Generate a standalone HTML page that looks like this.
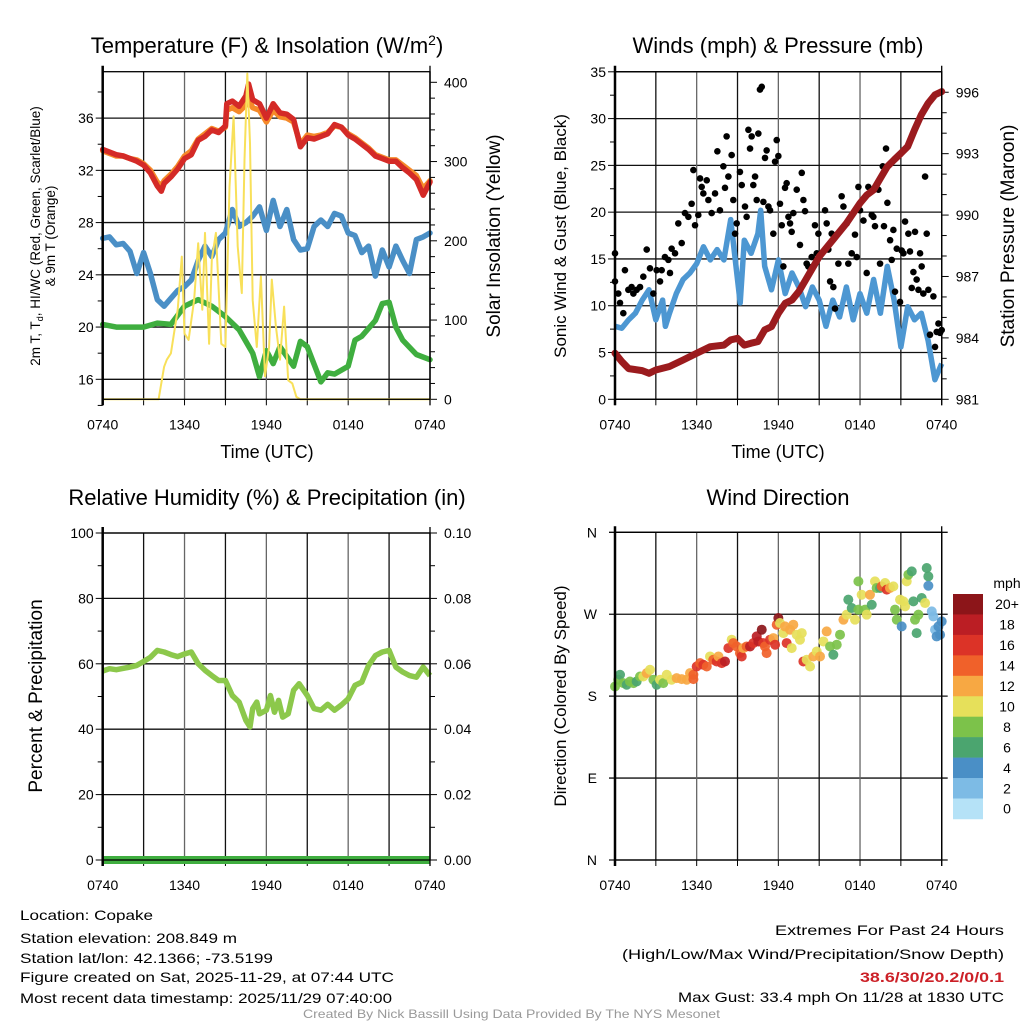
<!DOCTYPE html>
<html><head><meta charset="utf-8"><style>
html,body{margin:0;padding:0;background:#fff}
svg{display:block;font-family:"Liberation Sans",Arial,sans-serif}
</style></head><body>
<svg id="chart" width="1024" height="1024" viewBox="0 0 1024 1024" xmlns="http://www.w3.org/2000/svg">
<rect width="1024" height="1024" fill="#fff"/>
<g id="p1"></g>
<g id="p2"></g>
<g id="p3"></g>
<g id="p4"></g>
<g id="txt" font-size="14" fill="#000">
<text x="20" y="920" textLength="133" lengthAdjust="spacingAndGlyphs">Location: Copake</text>
<text x="20" y="943" textLength="217" lengthAdjust="spacingAndGlyphs">Station elevation: 208.849 m</text>
<text x="20" y="963" textLength="253" lengthAdjust="spacingAndGlyphs">Station lat/lon: 42.1366; -73.5199</text>
<text x="20" y="982" textLength="374" lengthAdjust="spacingAndGlyphs">Figure created on Sat, 2025-11-29, at 07:44 UTC</text>
<text x="20" y="1003" textLength="372" lengthAdjust="spacingAndGlyphs">Most recent data timestamp: 2025/11/29 07:40:00</text>
<text x="775" y="935" textLength="229" lengthAdjust="spacingAndGlyphs">Extremes For Past 24 Hours</text>
<text x="622" y="959" textLength="382" lengthAdjust="spacingAndGlyphs">(High/Low/Max Wind/Precipitation/Snow Depth)</text>
<text x="860" y="982" textLength="144" lengthAdjust="spacingAndGlyphs" fill="#cc2027" font-weight="bold">38.6/30/20.2/0/0.1</text>
<text x="678" y="1002" textLength="326" lengthAdjust="spacingAndGlyphs">Max Gust: 33.4 mph On 11/28 at 1830 UTC</text>
<text x="303" y="1018" font-size="12" fill="#999" textLength="417" lengthAdjust="spacingAndGlyphs">Created By Nick Bassill Using Data Provided By The NYS Mesonet</text>
</g>
</svg>
<script>
// ---------- data ----------
const xTickLabels = ["0740","1340","1940","0140","0740"];
const tempTicks = [16,20,24,28,32,36];
const solarTicks = [0,100,200,300,400];
const windTicks = [0,5,10,15,20,25,30,35];
const presTicks = [981,984,987,990,993,996];
const rhTicks = [0,20,40,60,80,100];
const precipTicks = ["0.00","0.02","0.04","0.06","0.08","0.10"];
const dirLabels = ["N","E","S","W","N"];
const speedBins = ["0","2","4","6","8","10","12","14","16","18","20+"];
const speedColors = ["#b5e2f7","#7dbbe5","#4a8fc6","#4ba56f","#7cc24a","#e6e05a","#f7a843","#f0612a","#dc3327","#bb1e24","#8c1519"];

const tempHours = [0,0.5,1,1.5,2,2.5,3,3.5,4,4.3,4.5,5,5.5,6,6.5,7,7.5,8,8.5,9,9.1,9.5,10,10.5,10.7,11,11.5,12,12.5,13,13.5,14,14.5,15,15.5,16,16.5,17,17.5,18,18.5,19,19.5,20,20.5,21,21.5,22,22.5,23,23.5,24];
const tempRed = [33.6,33.4,33.2,33.1,32.9,32.7,32.4,31.8,30.8,30.4,31.0,31.5,32.1,32.9,33.2,34.3,34.6,35.1,34.9,35.4,37.1,37.3,36.9,37.7,38.6,37.4,37.1,36.0,37.1,36.4,36.3,35.9,33.8,34.5,34.4,34.6,34.8,35.5,35.3,34.7,34.4,34.0,33.6,33.1,32.9,32.7,32.7,32.2,31.8,31.3,30.1,31.1];
const tempOrange = [33.5,33.3,33.1,33.1,32.9,32.8,32.5,32.0,31.1,30.8,31.2,31.7,32.3,33.1,33.5,34.4,34.8,35.2,35.0,35.3,36.6,36.8,36.5,37.0,37.5,36.8,36.6,35.7,36.6,36.1,36.0,35.7,34.0,34.7,34.6,34.7,34.9,35.4,35.3,34.8,34.5,34.1,33.7,33.2,33.0,32.8,32.8,32.4,32.0,31.6,30.6,31.2];
const chillHours = [0,0.5,1,1.5,2,2.5,3,3.5,4,4.5,5,5.5,6,6.5,7,7.5,8,8.5,9,9.5,10,10.5,11,11.5,12,12.5,13,13.5,14,14.5,15,15.5,16,16.5,17,17.5,18,18.5,19,19.5,20,20.5,21,21.5,22,22.5,23,23.5,24];
const chillBlue = [26.8,26.9,26.3,26.4,25.8,24.1,25.7,24.1,22.1,21.6,22.2,22.8,23.1,23.6,25.1,26.2,25.4,26.7,27.2,29.0,27.7,28.0,28.5,29.2,27.4,29.7,27.7,29.0,26.7,25.9,26.0,27.7,28.2,27.7,28.7,28.5,27.2,27.0,25.7,26.2,23.9,25.9,24.6,26.2,25.1,24.1,26.7,26.9,27.2];
const dewHours = [0,1,2,3,4,5,6,7,8,9,10,11,11.5,12,12.5,13,14,14.5,15,16,16.5,17,18,18.5,19,20,20.5,21,21.5,22,23,24];
const dewGreen = [20.2,20.0,20.0,20.0,20.3,20.2,21.6,22.1,21.6,20.8,19.8,18.0,16.2,18.2,17.2,18.5,17.0,18.9,18.5,15.8,16.5,16.4,17.0,19.0,19.3,20.5,21.8,21.9,20.0,19.0,17.9,17.5];
const solarHours = [0,4.1,4.5,4.7,5,5.5,5.8,6,6.3,6.7,7,7.3,7.5,7.8,8,8.3,8.7,9,9.3,9.6,9.9,10.2,10.4,10.6,10.8,11,11.3,11.6,11.9,12.2,12.4,12.7,13,13.3,13.6,13.9,14.2,14.5,24];
const solarYellow = [0,0,41,50,58,113,180,83,75,125,197,113,210,70,176,210,70,66,268,357,193,134,302,411,323,125,66,155,29,66,151,92,50,117,24,20,3,0,0];

const windHours = [0,0.5,1,1.5,2,2.5,3,3.5,3.7,4,4.5,5,5.5,6,6.5,7,7.5,8,8.5,9,9.2,9.5,10,10.5,10.7,11,11.5,12,12.5,13,13.5,14,14.5,15,15.5,16,16.5,17,17.5,18,18.5,19,19.5,20,20.5,21,21.5,22,22.5,23,23.5,24];
const windSpeed = [7.8,7.6,8.5,9.2,10.6,11.7,8.5,10.6,7.8,9.2,11.3,12.8,13.5,14.5,16.3,14.9,16.0,14.9,19.2,12.8,10.3,17.0,15.6,17.7,20.2,14.2,11.7,14.9,11.3,13.5,12.0,9.9,12.0,10.6,7.8,10.6,8.8,12.0,8.5,11.3,9.2,12.8,9.2,14.2,10.6,5.6,9.9,8.5,9.2,6.3,2.1,3.8];
const gustHours = [0,0,0.24,0.37,0.61,0.73,0.98,1.22,1.35,1.59,1.84,2.08,2.33,2.57,2.82,3.06,3.31,3.43,3.67,3.92,4.04,4.16,4.41,4.65,4.9,5.14,5.39,5.63,5.76,5.88,6.12,6.25,6.37,6.49,6.74,6.86,7.1,7.35,7.52,7.71,7.96,8.08,8.2,8.33,8.57,8.69,8.82,8.94,9.18,9.31,9.55,9.67,9.8,9.92,10.04,10.16,10.29,10.41,10.53,10.65,10.78,10.9,11.02,11.14,11.27,11.39,11.63,11.76,11.88,12.0,12.12,12.25,12.37,12.49,12.61,12.74,12.86,12.98,13.1,13.35,13.59,13.72,13.84,13.96,14.08,14.2,14.45,14.69,14.82,14.94,15.18,15.43,15.55,15.67,15.8,15.92,16.04,16.16,16.41,16.65,16.78,17.02,17.14,17.39,17.63,17.76,17.88,18.0,18.25,18.49,18.61,18.86,18.98,19.1,19.35,19.47,19.67,19.76,19.91,20.01,20.21,20.33,20.45,20.57,20.7,20.94,21.06,21.19,21.31,21.55,21.67,21.8,21.92,22.04,22.16,22.29,22.41,22.53,22.65,22.78,22.9,23.02,23.14,23.39,23.51,23.63,23.76,23.88,24];
const gustSpeed = [15.6,12.6,11.3,10.3,9.2,13.8,11.7,12.0,11.3,11.7,12.0,13.1,16.0,14.0,11.3,13.8,12.6,13.8,15.2,14.9,13.5,16.1,15.6,18.8,16.7,19.9,19.5,20.9,24.5,18.6,19.7,23.6,22.7,22.0,23.4,21.3,19.9,22.0,26.5,20.2,24.9,22.6,28.1,23.8,26.1,21.3,17.7,18.8,24.3,22.9,20.6,19.5,28.8,26.8,28.1,22.9,23.8,21.3,28.4,33.1,33.4,21.1,25.8,26.6,20.6,20.2,17.7,25.4,27.7,26.0,20.9,18.6,14.2,22.6,23.1,19.5,18.8,17.9,19.9,22.4,16.5,24.2,21.3,20.1,14.5,14.2,15.2,18.6,15.6,17.7,15.6,20.2,18.8,16.0,12.6,17.7,12.0,9.7,14.5,21.7,20.6,18.8,14.5,15.6,17.6,15.2,22.7,20.2,19.1,13.5,22.7,19.7,19.5,18.5,22.4,14.5,24.9,18.5,26.8,21.0,17.0,14.9,18.1,11.5,16.1,10.4,15.9,15.6,19.0,17.7,15.8,11.9,13.6,17.9,12.8,11.7,15.6,14.2,11.3,23.8,17.7,11.7,6.9,11.0,5.6,7.2,8.1,7.1,7.4];
const presHours = [0,0.5,1,2,2.5,3,4,5,6,7,8,8.5,9,9.5,10,10.5,11,11.5,12,12.5,13,13.5,14,15,16,17,18,18.5,19,19.5,20,20.5,21,21.5,22,22.5,23,23.5,24];
const pressure = [983.25,982.84,982.5,982.4,982.27,982.43,982.6,982.92,983.25,983.57,983.65,983.9,983.98,983.65,983.74,983.82,984.39,984.55,985.2,985.69,985.85,986.26,986.83,987.97,988.78,989.6,990.58,990.98,991.23,991.8,992.37,992.7,993.02,993.35,994.16,994.9,995.46,995.87,996.03];

const rhHours = [0,0.5,1,2,2.5,3,3.5,4,4.5,5,5.5,6,6.5,7,7.5,8,8.5,9,9.5,10,10.5,10.8,11,11.3,11.5,12,12.3,12.6,12.9,13.2,13.6,14,14.4,15,15.5,16,16.5,17,17.5,18,18.5,19,19.5,20,20.5,21,21.5,22,22.5,23,23.5,24];
const rhValues = [57.8,58.5,58.2,59,59.5,60.7,62,64.1,63.6,62.8,62.2,63.0,63.6,60,58,56.4,54.9,54.9,50.3,48.3,42.7,40.7,46.3,48.3,44.7,45.8,50.3,45.2,48.8,43.7,44.7,51.9,53.9,50.3,46.3,45.8,47.6,45.8,47.4,49.3,53.4,54.4,59.5,62.5,63.6,64.1,59,57.5,56.4,55.9,59,56.4];
const precipHours = [0,24];
const precipValues = [0,0];

const dirHours = [0,0.24,0.37,0.61,0.86,1.1,1.35,1.59,1.84,2.08,2.33,2.57,2.82,3.06,3.31,3.55,3.8,4.16,4.53,4.9,5.27,5.51,5.76,5.76,6.0,6.25,6.49,6.74,6.98,7.22,7.47,7.6,7.84,8.08,8.33,8.57,8.69,8.94,9.18,9.31,9.43,9.67,9.92,10.16,10.41,10.53,10.78,10.9,11.02,11.14,11.39,11.63,11.76,11.88,12.0,12.12,12.37,12.49,12.61,12.86,12.98,13.1,13.35,13.59,13.72,13.84,14.08,14.33,14.57,14.82,15.06,15.31,15.55,15.8,16.04,16.29,16.53,16.78,17.02,17.14,17.39,17.63,17.88,17.88,18.12,18.37,18.49,18.73,18.86,19.1,19.22,19.47,19.59,19.84,19.96,20.2,20.45,20.57,20.7,20.94,21.06,21.19,21.31,21.43,21.55,21.8,21.92,22.04,22.16,22.29,22.53,22.78,22.9,23.02,23.02,23.27,23.39,23.51,23.63,23.76,23.88,24];
const dirDegrees = [190.6,198.0,203.5,194.3,192.5,196.1,194.3,196.1,201.6,201.6,205.3,209.0,198.0,192.5,198.0,194.3,203.5,198.0,199.8,198.7,198.0,205.3,198.7,203.5,212.6,216.3,214.5,212.6,223.6,220.0,218.1,223.6,216.3,218.1,232.8,242.0,238.3,234.6,227.3,223.6,232.8,234.6,234.6,238.3,245.6,240.1,253.0,238.3,234.6,227.3,242.0,243.8,236.5,258.5,265.8,260.3,249.3,256.6,238.3,253.0,232.8,258.5,247.5,242.0,249.3,218.1,220.0,212.6,223.6,229.1,223.6,240.1,251.1,234.6,225.5,236.5,247.5,264.0,269.5,286.0,276.8,264.0,306.1,275.0,291.4,275.0,269.5,291.4,280.4,306.1,298.8,298.8,300.6,304.3,297.0,298.8,300.6,275.0,264.0,286.0,256.6,284.1,278.6,306.1,313.4,317.1,284.1,264.0,249.3,269.5,287.8,282.3,320.8,311.6,301.3,273.1,267.6,253.0,245.6,256.6,247.5,262.1];
const dirSpeeds = [9,9,7,9,7,9,9,7,9,11,13,11,9,7,11,9,11,11,13,13,13,13,15,15,17,15,17,15,11,15,17,13,17,19,17,11,15,15,15,17,13,15,19,17,19,19,21,17,15,15,17,13,17,15,21,11,11,13,17,13,11,13,11,11,11,17,11,11,13,11,13,11,13,9,7,9,9,13,11,7,7,11,9,9,11,9,11,13,7,11,9,7,15,11,17,13,11,9,9,11,5,11,11,11,9,7,7,9,7,9,7,11,7,7,5,3,3,3,5,5,5,5];

// ---------- helpers ----------
const NS = "http://www.w3.org/2000/svg";
function mk(parent, tag, attrs, text){
  const el = document.createElementNS(NS, tag);
  for (const k in attrs) el.setAttribute(k, attrs[k]);
  if (text !== undefined) el.textContent = text;
  parent.appendChild(el);
  return el;
}
function linePath(xs, ys, fx, fy){
  let d = "";
  for (let i=0;i<xs.length;i++) d += (i?"L":"M") + fx(xs[i]).toFixed(1) + " " + fy(ys[i]).toFixed(1);
  return d;
}
function frame(g, L, R, T, B, xScale){
  for (let h=0; h<=24; h+=3){
    const x = xScale(h);
    const gl = mk(g,"line",{x1:x,x2:x,y1:T,y2:B,stroke:(h%6===0?"#666":"#111"),"stroke-width":1.3});
    
    
    const tk = mk(g,"line",{x1:x,x2:x,y1:B,y2:B+6,stroke:"#000","stroke-width":1});
    
    
  }
  for (let i=0;i<xTickLabels.length;i++){
    const t = mk(g,"text",{x:xScale(i*6),y:B+30,"font-size":14,"text-anchor":"middle"},xTickLabels[i]);
    
    
  }
}
function hgrid(g, L, R, y){
  const l = mk(g,"line",{x1:L,x2:R,y1:y,y2:y,stroke:"#111","stroke-width":1.3});
  
  
}
function tick(g, x, y, dx){
  const l = mk(g,"line",{x1:x,x2:x+dx,y1:y,y2:y,stroke:"#000","stroke-width":1});
  
  
}
function label(g, x, y, txt, anchor, size, name, rot){
  const a = {x:x,y:y,"font-size":size||14,"text-anchor":anchor||"end"};
  if (rot) a.transform = "rotate("+rot+" "+x+" "+y+")";
  const t = mk(g,"text",a,txt);
  
  
  return t;
}
function border(g,L,R,T,B){
  const r = mk(g,"rect",{x:L,y:T,width:R-L,height:B-T,fill:"none",stroke:"#000","stroke-width":1.3});
  
  
  const ax = mk(g,"line",{x1:L,x2:L,y1:T-6,y2:B+6,stroke:"#000","stroke-width":2.5});
  
  
  const ax2 = mk(g,"line",{x1:R,x2:R,y1:T-6,y2:B+6,stroke:"#000","stroke-width":1.3});
  
  
}

// ---------- panel 1 ----------
(function(){
  const g = document.getElementById("p1");
  const L=102.7,R=430,T=71.7,B=399.3;
  const X = h => L + h*(R-L)/24;
  const TY = v => 379.3 - (v-16)*13.06;
  const SY = v => B - v*0.7925;
  tempTicks.forEach(v=>{hgrid(g,L,R,TY(v)); tick(g,L,TY(v),-7); label(g,L-9,TY(v)+5,String(v));});
  for (let v=14; v<=39; v+=1){ if (v%2===0 && v%4!==0) tick(g,L,TY(v),-5); }
  for (let v=0; v<=410; v+=20) tick(g,R,SY(v),v%100===0?7:5);
  solarTicks.forEach(v=>label(g,R+14,SY(v)+5,String(v),"start"));
  frame(g,L,R,T,B,X);
  const add=(d,c,w,n)=>{const p=mk(g,"path",{d:d,fill:"none",stroke:c,"stroke-width":w,"stroke-linejoin":"round","stroke-linecap":"round"});};
  add(linePath(dewHours,dewGreen,X,TY),"#3fae3f",5.5,"dewpoint-line");
  add(linePath(chillHours,chillBlue,X,TY),"#4a8fc6",5.5,"windchill-line");
  add(linePath(tempHours,tempOrange,X,TY),"#f58a2a",5.5,"temp-9m-line");
  add(linePath(tempHours,tempRed,X,TY),"#d42a27",5.5,"temp-2m-line");
  add(linePath(solarHours,solarYellow,X,SY),"#f8e05a",2,"solar-line");
  border(g,L,R,T,B);
  const t = mk(g,"text",{x:267,y:53,"font-size":22,"text-anchor":"middle"});
  
  
  t.innerHTML = 'Temperature (F) &amp; Insolation (W/m<tspan dy="-8" font-size="14">2</tspan><tspan dy="8">)</tspan>';
  label(g,267,458,"Time (UTC)","middle",18,"x-axis-title");
  const yt = mk(g,"text",{x:40,y:236,"font-size":13.5,"text-anchor":"middle",transform:"rotate(-90 40 236)"});
  
  
  yt.innerHTML = '2m T, T<tspan dy="3" font-size="9">d</tspan><tspan dy="-3">, HI/WC (Red, Green, Scarlet/Blue)</tspan>';
  label(g,55,236,"& 9m T (Orange)","middle",13.5,"temperature-axis-title-2",-90);
  label(g,500,236,"Solar Insolation (Yellow)","middle",19,"solar-axis-title",-90);
})();

// ---------- panel 2 ----------
(function(){
  const g = document.getElementById("p2");
  const L=615,R=941.7,T=71.7,B=399.3;
  const X = h => L + h*(R-L)/24;
  const WY = v => B - v*9.357;
  const PY = v => B - (v-981)*20.47;
  windTicks.forEach(v=>{hgrid(g,L,R,WY(v)); tick(g,L,WY(v),-7); label(g,L-9,WY(v)+5,String(v));});
  for (let v=2.5; v<35; v+=5) tick(g,L,WY(v),-5);
  for (let v=981; v<=996; v+=1) tick(g,R,PY(v),(v%3===0)?7:5);
  presTicks.forEach(v=>label(g,R+14,PY(v)+5,String(v),"start"));
  frame(g,L,R,T,B,X);
  const w = mk(g,"path",{d:linePath(windHours,windSpeed,X,WY),fill:"none",stroke:"#4d97d2","stroke-width":5.5,"stroke-linejoin":"round"});
  
  
  gustHours.forEach((h,i)=>{
    const c = mk(g,"circle",{cx:X(h),cy:WY(gustSpeed[i]),r:3.3,fill:"#000"});
    
    
  });
  const p = mk(g,"path",{d:linePath(presHours,pressure,X,PY),fill:"none",stroke:"#9b1b1e","stroke-width":7,"stroke-linejoin":"round","stroke-linecap":"round"});
  
  
  border(g,L,R,T,B);
  label(g,778,53,"Winds (mph) & Pressure (mb)","middle",22,"winds-title");
  label(g,778,458,"Time (UTC)","middle",18,"x-axis-title");
  label(g,566,236,"Sonic Wind & Gust (Blue, Black)","middle",17,"wind-axis-title",-90);
  label(g,1014,236,"Station Pressure (Maroon)","middle",19,"pressure-axis-title",-90);
})();

// ---------- panel 3 ----------
(function(){
  const g = document.getElementById("p3");
  const L=102.7,R=430,T=533,B=860;
  const X = h => L + h*(R-L)/24;
  const RY = v => B - v*3.27;
  rhTicks.forEach((v,i)=>{hgrid(g,L,R,RY(v)); tick(g,L,RY(v),-7); label(g,L-9,RY(v)+5,String(v)); tick(g,R,RY(v),7); label(g,R+14,RY(v)+5,precipTicks[i],"start");});
  for (let v=10; v<100; v+=20){ tick(g,L,RY(v),-5); tick(g,R,RY(v),5); }
  frame(g,L,R,T,B,X);
  const r = mk(g,"path",{d:linePath(rhHours,rhValues,X,RY),fill:"none",stroke:"#8cc84b","stroke-width":5.5,"stroke-linejoin":"round"});
  
  
  const pr = mk(g,"path",{d:linePath(precipHours,precipValues.map(v=>v*1000),X,RY),fill:"none",stroke:"#3fae3f","stroke-width":8});
  
  
  border(g,L,R,T,B);
  label(g,267,505,"Relative Humidity (%) & Precipitation (in)","middle",22,"humidity-title");
  label(g,42,696,"Percent & Precipitation","middle",19,"humidity-axis-title",-90);
})();

// ---------- panel 4 ----------
(function(){
  const g = document.getElementById("p4");
  const L=615,R=941.7,T=532.3,B=860;
  const X = h => L + h*(R-L)/24;
  const DY = v => B - v*(B-T)/360;
  dirLabels.forEach((s,i)=>{const v=i*90; hgrid(g,L-6,R+6,DY(v)); label(g,L-18,DY(v)+5,s);});
  frame(g,L,R,T,B,X);
  dirHours.forEach((h,i)=>{
    const bin = Math.min(10, Math.floor(dirSpeeds[i]/2));
    const c = mk(g,"circle",{cx:X(h),cy:DY(dirDegrees[i]),r:5,fill:speedColors[bin],"fill-opacity":0.92});
    
    
  });
  border(g,L,R,T,B);
  label(g,778,505,"Wind Direction","middle",22,"direction-title");
  label(g,566,696,"Direction (Colored By Speed)","middle",17,"direction-axis-title",-90);
  const bh = 20.45, top = 594;
  for (let i=0;i<speedBins.length;i++){
    const idx = speedBins.length-1-i;
    const rr = mk(g,"rect",{x:953,y:top+i*bh,width:30,height:bh+0.3,fill:speedColors[idx]});
    
    
    label(g,1007,top+i*bh+bh/2+5,speedBins[idx],"middle",14,"legend-label");
  }
  label(g,1007,588,"mph","middle",14,"legend-title");
})();
</script>
</body></html>
